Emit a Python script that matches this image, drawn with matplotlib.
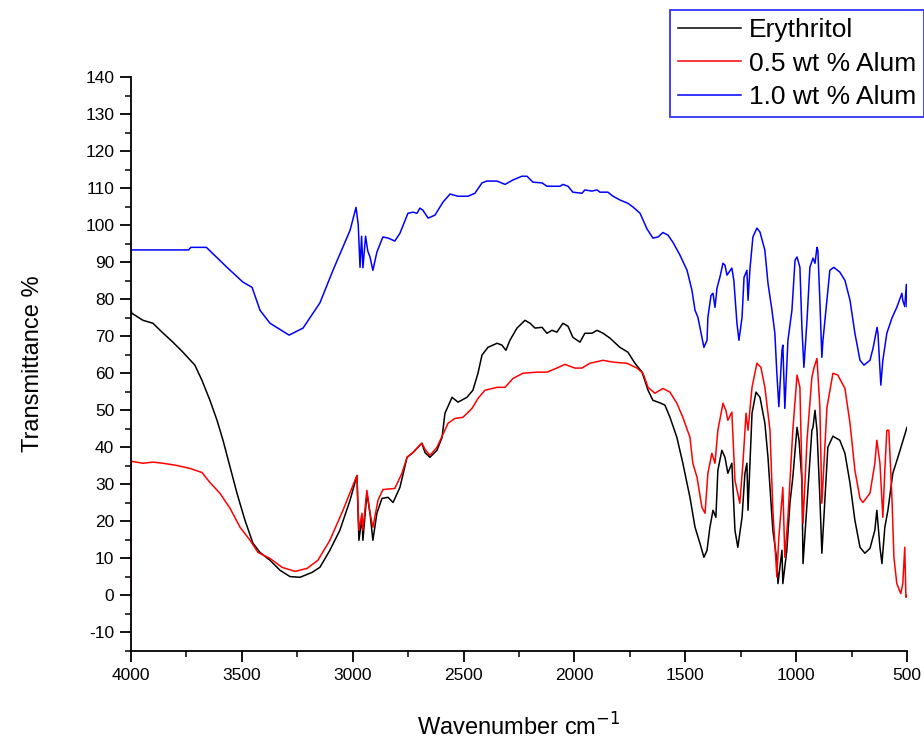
import numpy as np
import matplotlib
matplotlib.use('Agg')
import matplotlib.pyplot as plt
from matplotlib.ticker import MultipleLocator

plt.rcParams['font.family'] = ['Liberation Sans', 'DejaVu Sans']
plt.rcParams['axes.unicode_minus'] = False

# Erythritol (black)
wn_ery = [4000, 3996, 3946, 3901, 3860, 3811, 3766, 3712, 3680, 3644,
          3612, 3585, 3553, 3522, 3486, 3450, 3418, 3373, 3328, 3283,
          3238, 3184, 3148, 3103, 3058, 3012, 2981, 2972, 2958, 2954,
          2936, 2922, 2909, 2891, 2868, 2841, 2818, 2787, 2755, 2728,
          2706, 2688, 2674, 2652, 2620, 2597, 2584, 2552, 2525, 2485,
          2458, 2435, 2417, 2390, 2349, 2327, 2309, 2291, 2259, 2223,
          2200, 2178, 2146, 2124, 2101, 2079, 2052, 2029, 2007, 1975,
          1953, 1921, 1898, 1871, 1840, 1795, 1759, 1727, 1695, 1668,
          1646, 1614, 1592, 1569, 1538, 1511, 1479, 1456, 1434, 1416,
          1402, 1389, 1375, 1362, 1353, 1335, 1321, 1308, 1290, 1276,
          1263, 1244, 1231, 1222, 1217, 1199, 1181, 1163, 1141, 1127,
          1105, 1087, 1082, 1064, 1060, 1042, 1028, 1015, 996, 987,
          974, 969, 951, 929, 924, 915, 906, 893, 884, 870,
          857, 834, 803, 780, 757, 735, 712, 690, 667, 645,
          636, 622, 613, 600, 586, 564, 541, 518, 500]
t_ery = [77.0, 76.2, 74.3, 73.5, 71.1, 68.4, 65.7, 62.2, 58.1, 52.7,
         47.3, 41.9, 34.6, 27.6, 20.3, 14.1, 11.6, 9.5, 6.8, 5.1,
         4.9, 6.2, 7.6, 12.2, 17.6, 25.7, 32.4, 14.9, 21.1, 14.9,
         27.6, 22.2, 14.9, 22.2, 26.2, 26.5, 25.1, 29.2, 37.3, 38.6,
         40.0, 41.1, 38.6, 37.3, 39.2, 42.7, 49.2, 53.5, 52.2, 53.5,
         55.4, 60.0, 64.9, 67.0, 68.1, 67.6, 66.2, 68.9, 72.2, 74.3,
         73.5, 72.2, 72.4, 70.8, 71.6, 71.1, 73.5, 72.7, 69.7, 68.4,
         70.8, 70.8, 71.6, 70.8, 69.5, 67.0, 65.7, 62.7, 60.3, 55.4,
         52.7, 52.0, 51.4, 48.1, 42.7, 35.7, 26.5, 18.4, 14.1, 10.3,
         12.2, 18.4, 23.0, 21.1, 33.8, 39.2, 37.3, 33.0, 35.7, 17.6,
         13.0, 21.1, 33.0, 35.7, 23.0, 49.2, 54.9, 53.5, 46.5, 37.3,
         17.6, 9.5, 3.2, 12.2, 3.2, 12.2, 24.9, 31.9, 45.4, 41.9,
         31.1, 8.6, 24.9, 44.6, 45.4, 50.0, 44.6, 26.5, 11.4, 26.5,
         40.0, 43.0, 41.9, 38.4, 30.3, 20.3, 13.0, 11.4, 12.7, 17.6,
         23.0, 13.0, 8.6, 18.4, 23.0, 33.0, 37.3, 41.9, 45.4]

# 0.5 wt % Alumina (red)
wn_05 = [4000, 3999, 3996, 3946, 3901, 3856, 3793, 3734, 3680, 3644,
         3599, 3553, 3508, 3463, 3427, 3373, 3319, 3260, 3206, 3157,
         3103, 3044, 2981, 2972, 2958, 2954, 2936, 2922, 2909, 2886,
         2864, 2810, 2778, 2755, 2728, 2706, 2688, 2674, 2652, 2620,
         2597, 2570, 2539, 2503, 2462, 2435, 2404, 2349, 2313, 2277,
         2232, 2169, 2124, 2079, 2043, 1998, 1966, 1930, 1871, 1826,
         1763, 1718, 1691, 1668, 1637, 1601, 1569, 1538, 1511, 1479,
         1466, 1447, 1425, 1411, 1398, 1380, 1366, 1353, 1330, 1317,
         1308, 1290, 1276, 1254, 1240, 1226, 1217, 1199, 1177, 1159,
         1141, 1118, 1105, 1087, 1078, 1060, 1051, 1037, 1015, 996,
         983, 969, 951, 929, 920, 906, 893, 884, 861, 834,
         812, 780, 757, 735, 712, 699, 667, 645, 636, 622,
         609, 600, 591, 582, 568, 559, 546, 528, 519, 510,
         505, 500]
t_05 = [0.0, 36.5, 36.2, 35.7, 36.0, 35.7, 35.1, 34.3, 33.2, 30.5,
        27.6, 23.5, 18.4, 14.9, 11.6, 10.0, 7.6, 6.5, 7.3, 9.5,
        14.9, 23.0, 32.4, 17.6, 22.2, 17.6, 28.4, 22.2, 18.4, 25.7,
        28.6, 28.9, 33.0, 37.3, 38.6, 40.0, 41.1, 39.5, 37.8, 40.0,
        43.0, 46.5, 47.8, 48.1, 50.5, 53.2, 55.4, 56.2, 56.2, 58.6,
        60.0, 60.3, 60.3, 61.4, 62.4, 61.4, 61.4, 62.7, 63.5, 63.0,
        62.7, 61.4, 60.0, 56.2, 54.6, 55.9, 54.9, 51.9, 48.1, 42.7,
        35.7, 31.9, 23.8, 22.2, 33.0, 38.4, 35.7, 44.6, 51.9, 50.0,
        47.3, 49.5, 31.1, 24.9, 35.7, 49.2, 44.6, 56.2, 62.7, 61.6,
        56.2, 44.6, 23.0, 5.0, 15.7, 29.2, 10.3, 21.1, 44.6, 59.5,
        56.2, 19.5, 41.9, 58.9, 61.4, 64.0, 50.8, 24.9, 50.8, 60.0,
        59.5, 55.9, 46.5, 33.8, 26.2, 25.1, 27.6, 35.7, 41.9, 35.7,
        21.1, 33.8, 44.6, 44.6, 26.5, 10.3, 3.2, 0.5, 3.2, 13.0,
        -0.5, 0.0]

# 1.0 wt % Alumina (blue)
wn_10 = [4000, 3740, 3730, 3660, 3567, 3495, 3454, 3418, 3373, 3287,
         3224, 3148, 3089, 3012, 2985, 2975, 2967, 2960, 2954, 2942,
         2932, 2922, 2909, 2891, 2864, 2840, 2810, 2787, 2751, 2728,
         2710, 2697, 2683, 2660, 2629, 2593, 2561, 2525, 2480, 2449,
         2417, 2395, 2349, 2313, 2277, 2237, 2214, 2187, 2146, 2124,
         2065, 2052, 2029, 2007, 1966, 1953, 1921, 1898, 1885, 1849,
         1826, 1795, 1759, 1736, 1704, 1673, 1646, 1623, 1601, 1578,
         1556, 1524, 1492, 1470, 1456, 1443, 1425, 1416, 1402, 1398,
         1384, 1375, 1366, 1357, 1344, 1330, 1321, 1312, 1290, 1281,
         1267, 1258, 1244, 1235, 1222, 1217, 1208, 1195, 1177, 1163,
         1141, 1127, 1109, 1096, 1087, 1078, 1064, 1060, 1051, 1037,
         1019, 1005, 996, 983, 974, 965, 951, 938, 924, 915,
         906, 902, 893, 884, 879, 861, 848, 830, 803, 780,
         757, 735, 712, 694, 667, 653, 635, 631, 618, 609,
         591, 568, 546, 523, 519, 510, 503, 500]
t_10 = [93.3, 93.3, 94.0, 94.0, 88.6, 84.6, 83.2, 77.0, 73.5, 70.3,
        72.2, 79.0, 87.8, 98.6, 104.8, 100.0, 88.6, 97.0, 88.5, 97.0,
        93.0, 91.4, 87.8, 92.7, 96.8, 96.5, 95.7, 97.8, 103.2, 103.5,
        103.2, 104.6, 104.0, 101.9, 102.7, 106.2, 108.4, 107.8, 107.8, 108.6,
        111.4, 111.9, 111.9, 111.0, 112.2, 113.2, 113.2, 111.6, 111.4, 110.5,
        110.5, 111.0, 110.5, 108.9, 108.6, 109.5, 109.2, 109.5, 108.9, 108.9,
        107.8, 106.8, 105.9, 104.9, 103.2, 99.0, 96.5, 96.8, 98.0, 97.3,
        95.4, 91.9, 87.8, 82.4, 77.0, 75.1, 69.7, 67.0, 68.9, 75.1,
        81.0, 81.6, 77.8, 83.0, 85.9, 89.7, 89.2, 86.5, 88.4, 85.1,
        73.5, 68.9, 75.1, 85.9, 87.8, 79.7, 88.4, 96.8, 99.2, 98.1,
        93.2, 84.3, 77.0, 70.8, 60.0, 51.0, 66.2, 67.6, 50.5, 68.9,
        77.0, 90.5, 91.4, 88.6, 72.4, 61.6, 74.3, 88.6, 91.1, 89.7,
        94.0, 93.2, 79.7, 64.3, 68.9, 79.7, 87.8, 88.6, 87.3, 85.1,
        79.7, 70.8, 63.5, 62.2, 63.5, 66.8, 72.4, 70.8, 56.8, 63.5,
        70.8, 74.9, 77.8, 81.6, 79.7, 78.0, 84.0, 78.0]

# legend text as it shows in the (cropped) reference
labels = ['Erythritol', '0.5 wt % Alum', '1.0 wt % Alum']

fig = plt.figure(figsize=(9.24, 7.39), dpi=100)
ax = fig.add_axes([131/924, 1 - 651/739, (907 - 131)/924, (651 - 77)/739])

l1, = ax.plot(wn_ery, t_ery, color='black', lw=1.1)
l2, = ax.plot(wn_05, t_05, color='red', lw=1.1)
l3, = ax.plot(wn_10, t_10, color='blue', lw=1.1)

ax.set_xlim(4000, 500)
ax.set_ylim(-15, 140)
ax.xaxis.set_major_locator(MultipleLocator(500))
ax.xaxis.set_minor_locator(MultipleLocator(250))
ax.yaxis.set_major_locator(MultipleLocator(10))
ax.yaxis.set_minor_locator(MultipleLocator(5))

ax.spines['top'].set_visible(False)
ax.spines['right'].set_visible(False)
ax.spines['left'].set_linewidth(1.3)
ax.spines['bottom'].set_linewidth(1.3)
ax.tick_params(which='major', direction='out', length=8, width=1.3, labelsize=12.5, pad=4)
ax.tick_params(which='minor', direction='out', length=4.5, width=1.1)

ax.set_xlabel('Wavenumber cm$^{-1}$', fontsize=17, labelpad=22)
ax.set_ylabel('Transmittance %', fontsize=17, labelpad=30)

leg = fig.legend([l1, l2, l3], labels, loc='upper left',
                 bbox_to_anchor=(670/924, 1 - 10/739), fontsize=19,
                 frameon=True, fancybox=False, handlelength=2.4,
                 handletextpad=0.3, labelspacing=0.37, borderpad=0.3,
                 borderaxespad=0)
leg.get_frame().set_edgecolor('blue')
leg.get_frame().set_linewidth(1.3)

fig.savefig('out.png', dpi=100)
